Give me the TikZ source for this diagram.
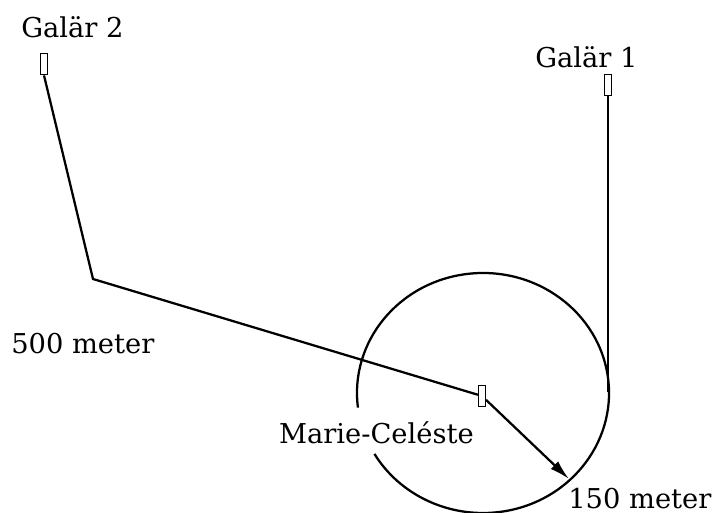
\documentclass[tikz,border=0pt]{standalone}
\usepackage{fontspec}
\setmainfont{DejaVu Serif}
\usepackage{tikz}
\usetikzlibrary{arrows.meta,positioning}

\tikzset{
  shipbox/.style={draw, line width=1.1pt, minimum width=5pt, minimum height=16pt, inner sep=0pt},
  course/.style={line width=1.7pt},
  lbl/.style={font=\fontsize{20.5}{24}\selectfont, inner sep=0pt}
}

\begin{document}
\begin{tikzpicture}[x=0.75pt, y=-0.75pt]
            \useasboundingbox (0,0) rectangle (727,513);

            % Ships
            \node[shipbox] (g2ship) at (44,64) {};
            \node[shipbox] (g1ship) at (608,85) {};
            \node[shipbox] (mcship) at (482,396) {};

            % Labels
            \node[lbl, anchor=base west] (g2lbl) at (21,38) {Galär 2};
            \node[lbl, anchor=base west] (g1lbl) at (535,68) {Galär 1};
            \node[lbl, anchor=base west] (dist) at (11,353) {500 meter};
            \node[lbl, anchor=base east] (mclbl) at (474,443) {Marie-Celéste};
            \node[lbl, anchor=base west] (radius) at (568,508) {150 meter};

            \coordinate (bend) at (93,279);
            \coordinate (g1end) at (608,392);
            \coordinate (hit) at (569,479);

            % Courses of the galleys
            \draw[course] (g2ship.south) -- (bend) -- (mcship);
            \draw[course] (g1ship.south) -- (g1end);

            % Drift circle
            \draw[course] (483,393) ++(173:126 and 120)
                arc[start angle=173, end angle=509.5, x radius=126, y radius=120];

            % Drift arrow
            \draw[course, -{Latex[length=15pt, width=8pt]}] (mcship) -- (hit);
\end{tikzpicture}
\end{document}
